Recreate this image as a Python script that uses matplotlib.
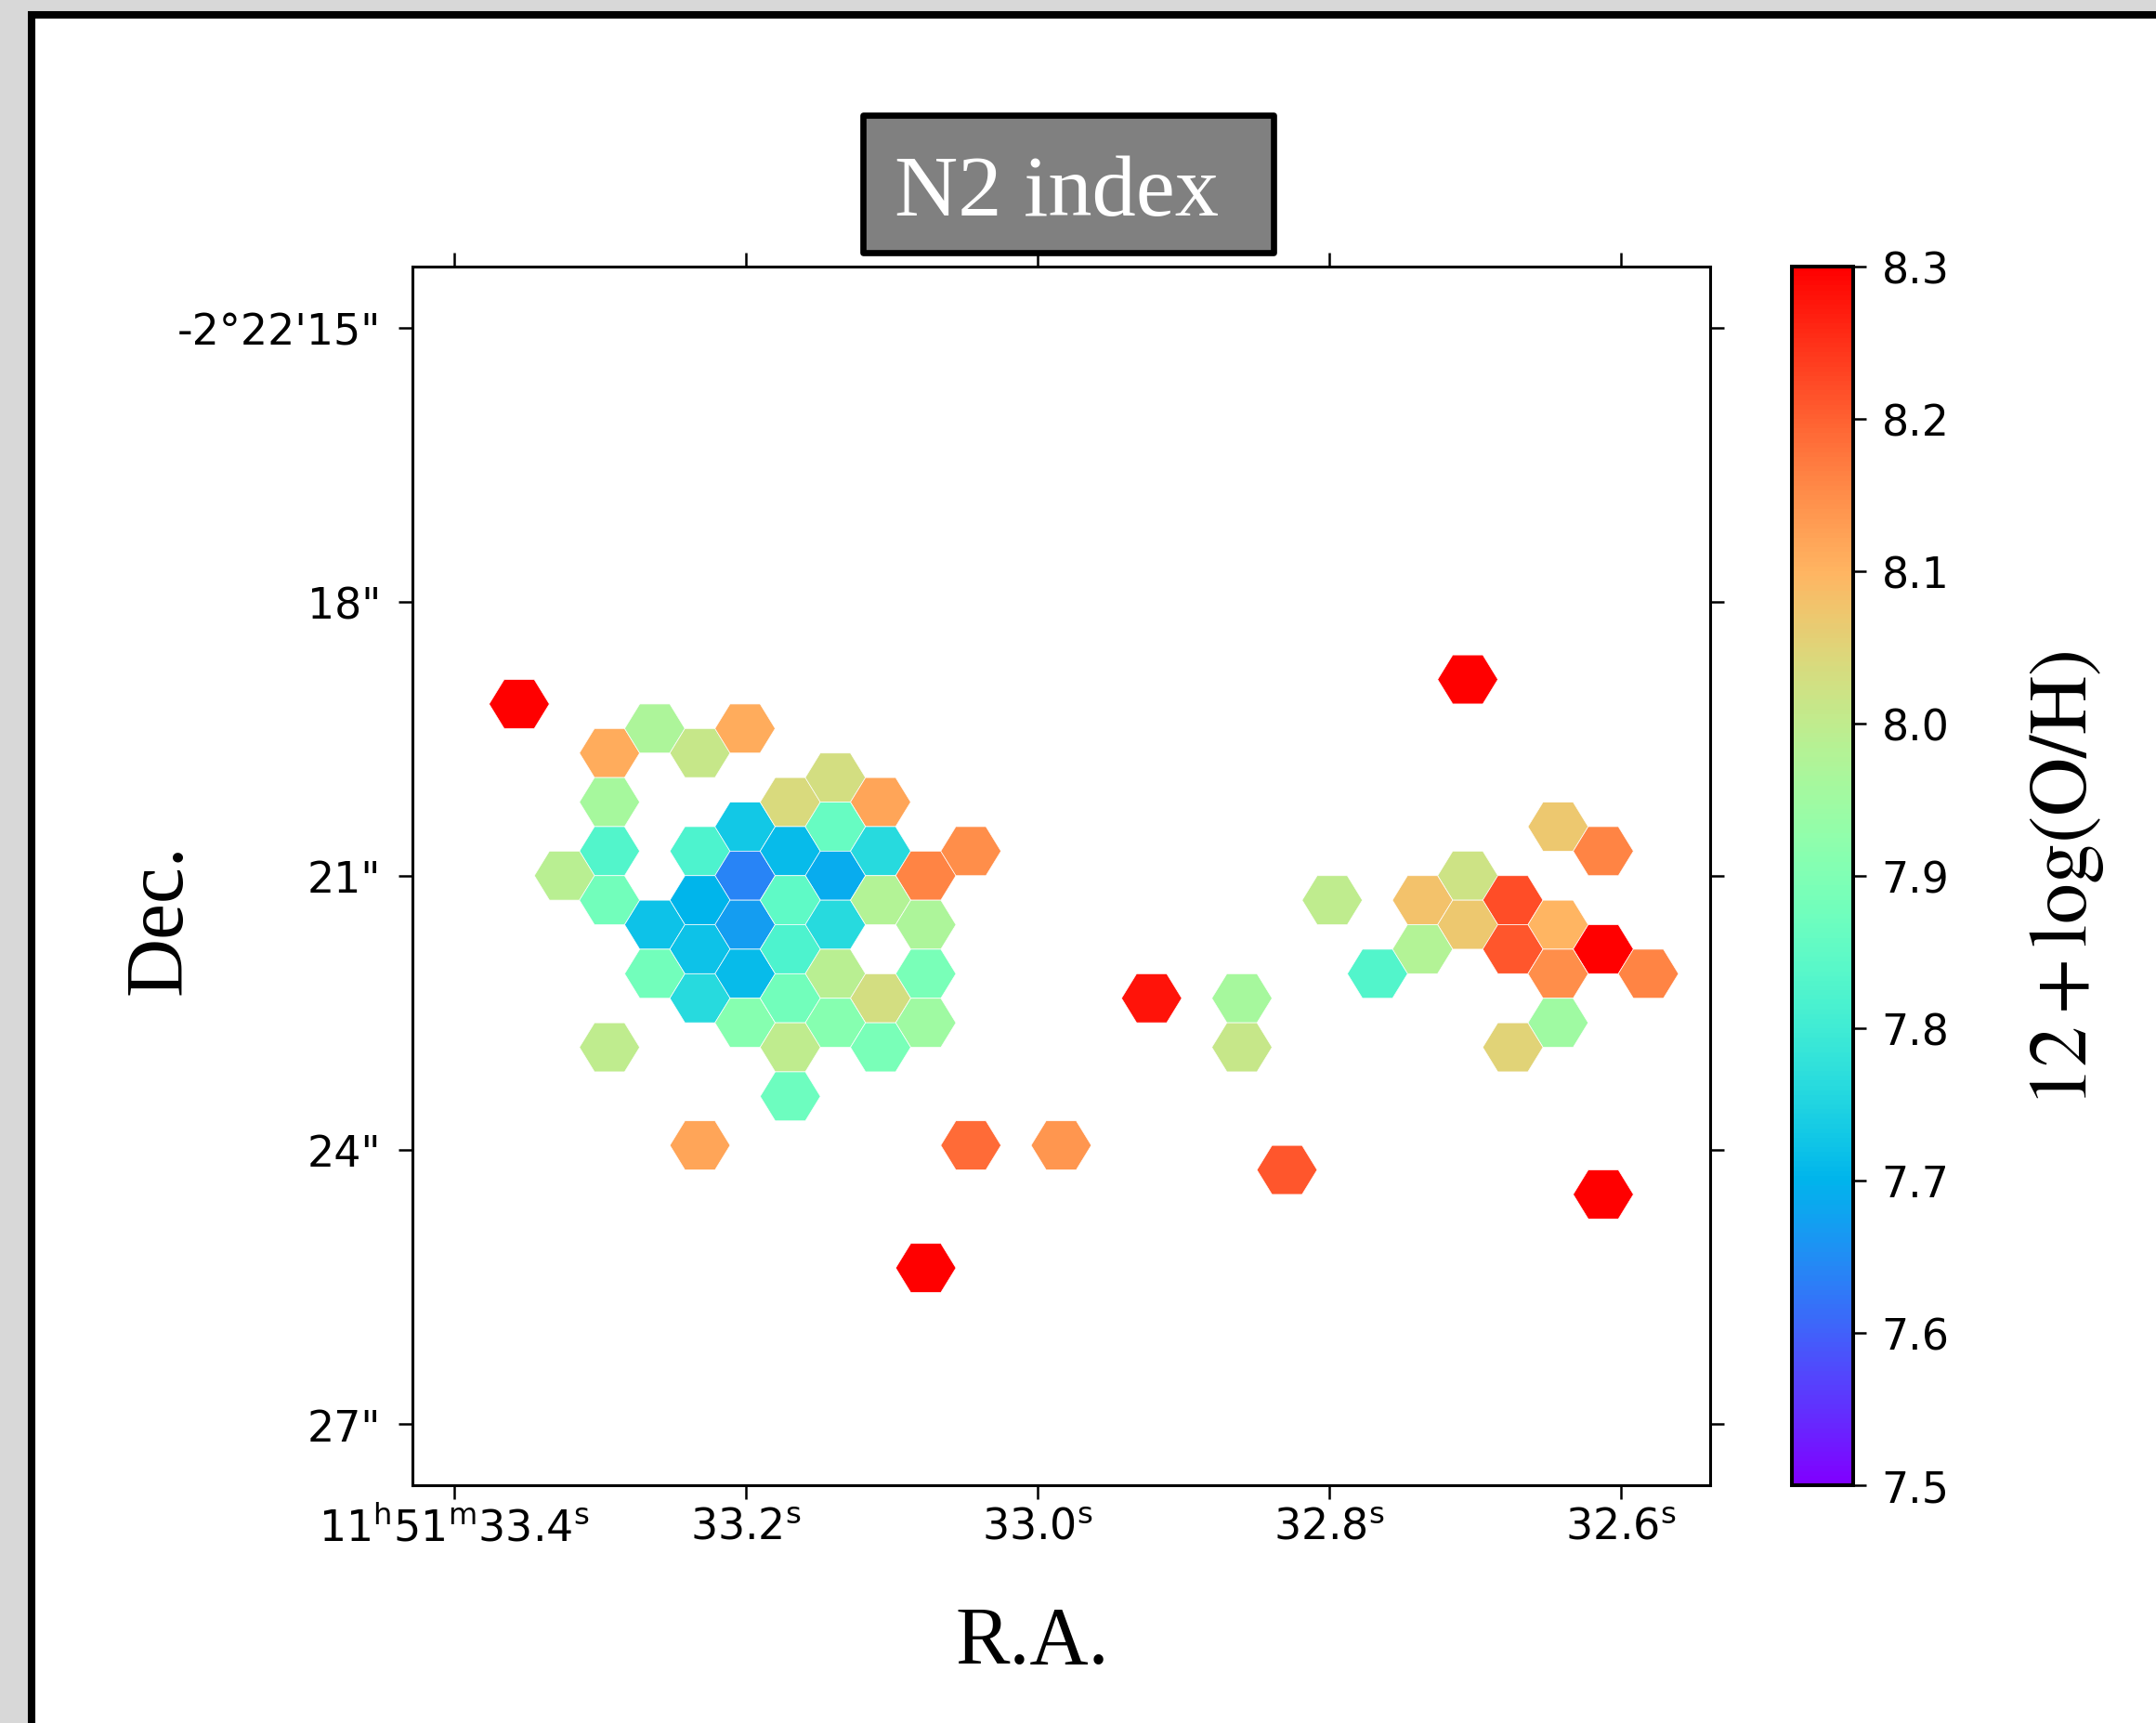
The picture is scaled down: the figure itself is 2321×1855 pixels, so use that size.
import matplotlib
matplotlib.use('Agg')
import matplotlib.pyplot as plt
import numpy as np
from matplotlib.collections import PolyCollection
from matplotlib.patches import Rectangle
from matplotlib.colors import Normalize

# ---------------- data ----------------
# hexagon centres: R.A. seconds (of 11h51m) and Dec arcsec (of -2d22')
ra_sec = [
    33.3552, 33.2933, 33.2623, 33.2313, 33.2004, 33.2933, 33.2933, 33.3242, 33.2933, 33.2313,
    33.2004, 33.2004, 33.1694, 33.1385, 33.1075, 33.1694, 33.1385, 33.1385, 33.1075, 33.0765,
    33.0456, 33.2313, 33.2623, 33.2004, 33.1694, 33.1385, 33.1075, 33.0765, 33.2623, 33.2313,
    33.2004, 33.1694, 33.1385, 33.0765, 33.2313, 33.2004, 33.1694, 33.1075, 33.1385, 33.0765,
    33.1694, 33.1075, 33.1694, 33.2933, 33.2313, 33.0456, 32.9837, 33.0765,
    32.7050, 32.6431, 32.6121, 32.7050, 32.7360, 32.6741, 32.7979, 32.7050, 32.6431, 32.7360,
    32.6741, 32.6121, 32.7669, 32.6431, 32.5812, 32.9217, 32.8598, 32.8598, 32.6431, 32.6741,
    32.8289, 32.6121]
dec_arcsec = [
    19.120, 19.656, 19.388, 19.656, 19.388, 20.193, 20.730, 20.998, 21.267, 20.730,
    20.462, 20.998, 20.193, 19.925, 20.193, 20.730, 20.462, 20.998, 20.730, 20.998,
    20.730, 21.267, 21.535, 21.535, 21.267, 21.535, 21.267, 21.535, 22.072, 21.803,
    22.072, 21.803, 22.072, 22.072, 22.340, 22.609, 22.340, 22.340, 22.609, 22.609,
    22.877, 22.877, 23.414, 22.877, 23.950, 23.950, 23.950, 25.292,
    18.851, 20.462, 20.730, 20.998, 21.267, 21.267, 21.267, 21.535, 21.535, 21.803,
    21.803, 21.803, 22.072, 22.072, 22.072, 22.340, 22.340, 22.877, 22.609, 22.877,
    24.219, 24.487]
oh_values = [
    8.30, 8.11, 7.97, 8.01, 8.11, 7.96, 7.83, 7.99, 7.88, 7.82,
    7.73, 7.64, 8.04, 8.03, 8.12, 7.71, 7.86, 7.69, 7.76, 8.16,
    8.15, 7.70, 7.72, 7.67, 7.85, 7.76, 7.98, 7.97, 7.88, 7.72,
    7.71, 7.82, 7.99, 7.89, 7.76, 7.91, 7.88, 8.03, 7.91, 7.95,
    8.00, 7.89, 7.87, 8.00, 8.12, 8.19, 8.14, 8.30,
    8.30, 8.07, 8.16, 8.02, 8.08, 8.22, 8.00, 8.07, 8.10, 7.98,
    8.21, 8.30, 7.83, 8.15, 8.16, 8.28, 7.96, 8.01, 7.95, 8.05,
    8.21, 8.30]

ra_ticks = [33.4, 33.2, 33.0, 32.8, 32.6]
ra_ticklabels = [r'$11^{\mathrm{h}}51^{\mathrm{m}}33.4^{\mathrm{s}}$', r'$33.2^{\mathrm{s}}$',
                 r'$33.0^{\mathrm{s}}$', r'$32.8^{\mathrm{s}}$', r'$32.6^{\mathrm{s}}$']
dec_ticks = [15, 18, 21, 24, 27]
dec_ticklabels = ['-2°22\'15"', '18"', '21"', '24"', '27"']
cbar_ticks = [7.5, 7.6, 7.7, 7.8, 7.9, 8.0, 8.1, 8.2, 8.3]
title_text = 'N2 index'
xlabel_text = 'R.A.'
ylabel_text = 'Dec.'
cbar_label = r'$12+\log(\mathrm{O/H})$'

# hexagon half sizes (R.A. seconds, arcsec)
HEX_A = 0.02064
HEX_B = 0.26837

W, H = 2321, 1856
fig = plt.figure(figsize=(W / 100, H / 100), dpi=100, facecolor='#d8d8d8')

def fx(px):
    return px / W

def fy(py):
    return 1 - py / H

# outer white panel with black frame
frame = Rectangle((fx(34), -0.5), 2.0, fy(17) + 0.5, transform=fig.transFigure,
                  facecolor='white', edgecolor='black', linewidth=5.8, zorder=-10)
fig.add_artist(frame)

ax = fig.add_axes([fx(443.5), fy(1600), fx(1841) - fx(443.5), fy(288) - fy(1600)])
cmap = plt.get_cmap('rainbow')
norm = Normalize(vmin=7.5, vmax=8.3)

verts = []
for x, y in zip(ra_sec, dec_arcsec):
    verts.append([(x + HEX_A, y), (x + HEX_A / 2, y + HEX_B), (x - HEX_A / 2, y + HEX_B),
                  (x - HEX_A, y), (x - HEX_A / 2, y - HEX_B), (x + HEX_A / 2, y - HEX_B)])
coll = PolyCollection(verts, array=np.array(oh_values), cmap=cmap, norm=norm,
                      edgecolors='white', linewidths=0.5)
ax.add_collection(coll)

ax.set_xlim(33.42872, 32.53887)
ax.set_ylim(27.67, 14.332)
ax.set_xticks(ra_ticks)
ax.set_xticklabels(ra_ticklabels)
ax.set_yticks(dec_ticks)
ax.set_yticklabels(dec_ticklabels)
ax.tick_params(axis='both', which='both', direction='out', length=11, width=1.8,
               top=True, right=True, labeltop=False, labelright=False, labelsize=33)
ax.tick_params(axis='x', pad=5)
ax.tick_params(axis='y', pad=13)
for s in ax.spines.values():
    s.set_linewidth(2.2)

cax = fig.add_axes([fx(1929), fy(1600), fx(1995) - fx(1929), fy(288) - fy(1600)])
cb = fig.colorbar(coll, cax=cax, ticks=cbar_ticks)
cb.ax.set_yticklabels(['%.1f' % t for t in cbar_ticks])
cb.outline.set_linewidth(2.9)
cax.tick_params(length=10, width=1.8, labelsize=33, pad=12)

# labels
fig.text(fx(1111), fy(1769.6), xlabel_text, fontsize=63, family='Liberation Serif',
         ha='center', va='center')
fig.text(fx(172.6), fy(990), ylabel_text, fontsize=63, family='Liberation Serif',
         ha='center', va='center', rotation=90)
fig.text(fx(2225), fy(946), cbar_label, fontsize=63, math_fontfamily='stix',
         ha='center', va='center', rotation=90)

# title box
box = Rectangle((fx(928.5), fy(273)), fx(1370.5) - fx(928.5), fy(124.5) - fy(273),
                transform=fig.transFigure, facecolor='#808080', edgecolor='black',
                linewidth=4.8, joinstyle='round', zorder=5)
fig.add_artist(box)
fig.text(fx(963), fy(231.7), title_text, fontsize=68, family='Liberation Serif',
         color='white', ha='left', va='baseline', zorder=6)

fig.savefig('out.png', dpi=100, facecolor=fig.get_facecolor())
